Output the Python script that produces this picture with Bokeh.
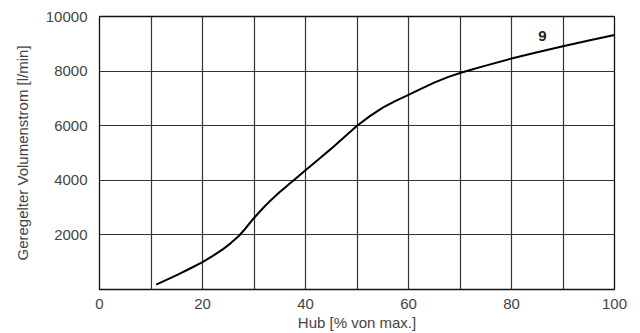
from bokeh.plotting import figure
from bokeh.models import FixedTicker, Range1d, Label
from bokeh.embed import file_html
from bokeh.resources import INLINE

# Regulated flow vs. stroke
hub = [11, 13, 15, 17.5, 20, 22, 24, 25.5, 27, 28, 29, 30, 31, 32, 33, 34, 35, 36,
       37, 38, 40, 42.5, 45, 47.5, 50, 52.5, 55, 57.5, 60, 62.5, 65, 67.5, 70, 72.5,
       75, 80, 85, 90, 95, 100]
volumenstrom = [180, 350, 530, 760, 1000, 1230, 1480, 1700, 1950, 2160, 2390, 2620,
                2830, 3030, 3220, 3400, 3570, 3730, 3890, 4050, 4370, 4760, 5160,
                5580, 6000, 6350, 6660, 6910, 7130, 7360, 7580, 7770, 7930, 8070,
                8200, 8460, 8690, 8910, 9120, 9320]

x_ticks = [0, 20, 40, 60, 80, 100]
y_ticks = [2000, 4000, 6000, 8000, 10000]
x_grid = [0, 10, 20, 30, 40, 50, 60, 70, 80, 90, 100]

curve_label = "9"
curve_label_pos = (86, 9270)

FONT = "Liberation Sans"
TEXT = "#444444"

p = figure(width=640, height=333, output_backend="svg", toolbar_location=None,
           x_range=Range1d(0, 100), y_range=Range1d(0, 10000),
           min_border_left=99, min_border_right=26, min_border_top=16, min_border_bottom=44)

p.background_fill_color = "white"
p.border_fill_color = "white"
p.outline_line_color = "#111111"
p.outline_line_width = 1.3

p.xaxis.ticker = FixedTicker(ticks=x_ticks)
p.yaxis.ticker = FixedTicker(ticks=y_ticks)
p.xgrid.ticker = FixedTicker(ticks=x_grid)
p.ygrid.ticker = FixedTicker(ticks=y_ticks)
for g in (p.xgrid, p.ygrid):
    g.grid_line_color = "#333333"
    g.grid_line_width = 1.2

for ax in (p.xaxis, p.yaxis):
    ax.axis_line_color = None
    ax.major_tick_line_color = None
    ax.minor_tick_line_color = None
    ax.major_label_text_font = FONT
    ax.major_label_text_font_size = "15px"
    ax.major_label_text_color = TEXT
    ax.axis_label_text_font = FONT
    ax.axis_label_text_font_size = "15px"
    ax.axis_label_text_font_style = "normal"
    ax.axis_label_text_color = TEXT

p.xaxis.axis_label = "Hub [% von max.]"
p.yaxis.axis_label = "Geregelter Volumenstrom [l/min]"
p.xaxis.major_label_standoff = 3
p.yaxis.major_label_standoff = 6
p.xaxis.axis_label_standoff = 2
p.yaxis.axis_label_standoff = 12

p.line(hub, volumenstrom, line_color="black", line_width=2, line_join="round")

p.add_layout(Label(x=curve_label_pos[0], y=curve_label_pos[1], text=curve_label,
                   text_font=FONT, text_font_size="15px", text_font_style="bold",
                   text_color="#222222", text_align="center", text_baseline="middle"))

open("out.html", "w").write(file_html(p, INLINE))
